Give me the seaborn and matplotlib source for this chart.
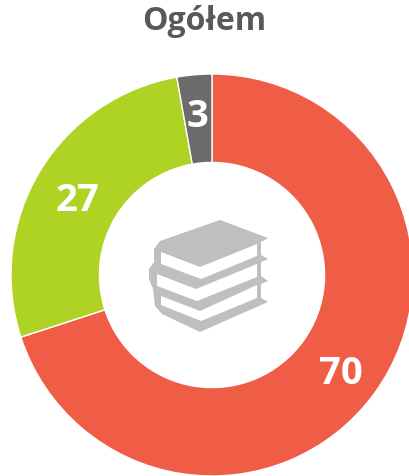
import matplotlib
matplotlib.use('Agg')
import seaborn as sns
import matplotlib.pyplot as plt
from matplotlib.patches import Polygon

categories = ["czerwony", "zielony", "szary"]
values = [70, 27.2, 2.8]
value_labels = ["70", "27", "3"]
colors = ["#ef5d47", "#afd325", "#6b6b6b"]
title = "Ogółem"

# ikona ksiazek, wspolrzedne w pikselach obrazka
book_outline = [(220, 221), (268, 239), (261, 243), (261, 256), (268, 260), (261, 263), (261, 277),
                (268, 282), (261, 285), (261, 299), (268, 303), (200, 333), (162, 315), (155, 307),
                (153, 290), (149, 280), (149, 270), (154, 263), (154, 250), (160, 242)]
book_pages = [
    [(161, 253), (200, 268), (257, 245), (257, 257), (201, 280), (161, 265)],
    [(157, 275), (196, 290), (257, 265), (257, 278), (197, 302), (157, 287)],
    [(161, 297), (200, 312), (257, 286), (257, 299), (201, 322), (161, 306)],
]
# przesuniecie etykiet w pikselach (x, y w gore)
label_shift = [(2, -6), (0, -6), (-1, 3)]

sns.set_theme(style="white")
plt.rcParams['font.family'] = ['Open Sans', 'DejaVu Sans']

fig = plt.figure(figsize=(4.10, 4.77), dpi=100)
fig.patch.set_facecolor("white")

# kolo ma srednice 402 px i wychodzi troche poza prawa krawedz
ax = fig.add_axes([11 / 410, 0, 402 / 410, 402 / 477])
wedges, labels = ax.pie(values, labels=value_labels, colors=sns.color_palette(colors),
                        startangle=90, counterclock=False, normalize=True, radius=1, labeldistance=0.78,
                        wedgeprops=dict(width=0.44, edgecolor="white", linewidth=1))
for t, s in zip(labels, label_shift):
    x, y = t.get_position()
    t.set_position((x + s[0] / 201, y + s[1] / 201))
    t.set_ha("center")
    t.set_va("center")
    t.set_color("white")
    t.set_fontweight("bold")
    t.set_fontsize(27.5)
ax.set_xlim(-1, 1)
ax.set_ylim(-1, 1)

icon = fig.add_axes([0, 0, 1, 1])
icon.set_xlim(0, 410)
icon.set_ylim(477, 0)
icon.axis("off")
icon.add_patch(Polygon(book_outline, closed=True, facecolor="#bfbfbf", edgecolor="none"))
for page in book_pages:
    icon.add_patch(Polygon(page, closed=True, facecolor="white", edgecolor="none"))
icon.text(204.5, 22, title, ha="center", va="center", fontsize=23, fontweight="bold", color="#595959")

fig.savefig("out.png", dpi=100)
plt.close()
